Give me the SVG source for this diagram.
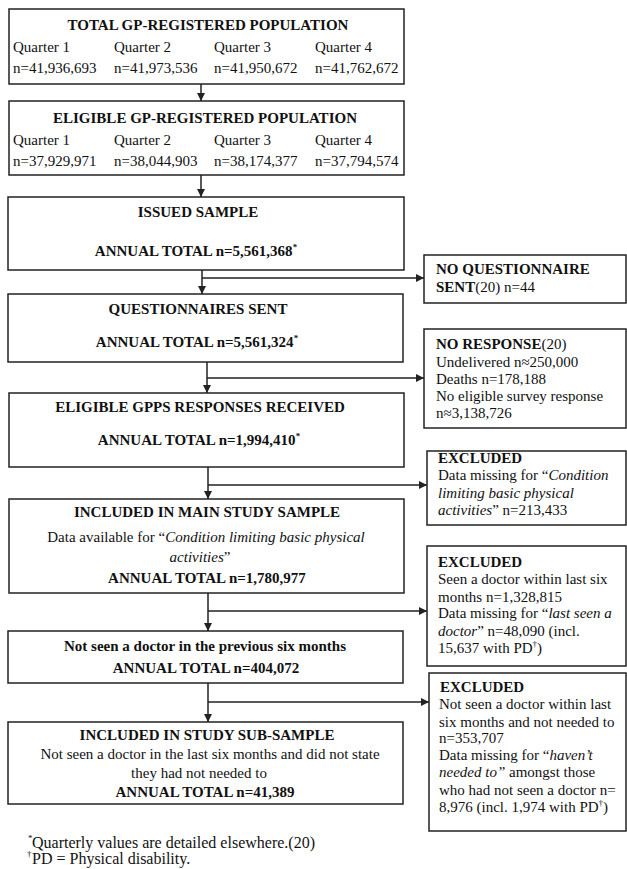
<svg xmlns="http://www.w3.org/2000/svg" width="627" height="869" viewBox="0 0 627 869">
<style>
  .box { fill: #ffffff; stroke: #222222; stroke-width: 1.5; }
  .con { fill: none; stroke: #222222; stroke-width: 1.5; marker-end: url(#ah); }
  text { font-family: "Liberation Serif", "Times New Roman", serif; font-size: 15px; fill: #111111; }
  .b { font-weight: bold; }
  .i { font-style: italic; }
  .c { text-anchor: middle; }
  .sup { font-size: 9px; }
  .fn { font-size: 16px; }
</style>
<defs>
  <marker id="ah" viewBox="0 0 10 10" refX="10" refY="5" markerWidth="9" markerHeight="8" markerUnits="userSpaceOnUse" orient="auto">
    <path d="M0,0 L10,5 L0,10 z" fill="#222222"/>
  </marker>
</defs>
<rect x="0" y="0" width="627" height="869" fill="#ffffff"/>

<g id="connectors">
  <line class="con" x1="201" y1="84" x2="201" y2="101"/>
  <line class="con" x1="201" y1="175" x2="201" y2="197"/>
  <line class="con" x1="202" y1="270" x2="202" y2="294"/>
  <line class="con" x1="202" y1="278" x2="424" y2="278"/>
  <line class="con" x1="207" y1="362" x2="207" y2="393"/>
  <line class="con" x1="207" y1="378" x2="424" y2="378"/>
  <line class="con" x1="208" y1="467" x2="208" y2="499"/>
  <line class="con" x1="208" y1="485" x2="427" y2="485"/>
  <line class="con" x1="208" y1="593" x2="208" y2="631"/>
  <line class="con" x1="208" y1="611" x2="427" y2="611"/>
  <line class="con" x1="208" y1="683" x2="208" y2="722"/>
  <line class="con" x1="208" y1="702" x2="429" y2="702"/>
</g>

<g id="total-population">
  <rect class="box" x="9" y="9" width="395" height="75"/>
  <text class="b c" x="208" y="30">TOTAL GP-REGISTERED POPULATION</text>
  <text x="13" y="52">Quarter 1</text>
  <text x="114" y="52">Quarter 2</text>
  <text x="214" y="52">Quarter 3</text>
  <text x="315" y="52">Quarter 4</text>
  <text x="13" y="73">n=41,936,693</text>
  <text x="114" y="73">n=41,973,536</text>
  <text x="214" y="73">n=41,950,672</text>
  <text x="315" y="73">n=41,762,672</text>
</g>

<g id="eligible-population">
  <rect class="box" x="9" y="101" width="395" height="74"/>
  <text class="b c" x="205" y="123">ELIGIBLE GP-REGISTERED POPULATION</text>
  <text x="13" y="145">Quarter 1</text>
  <text x="114" y="145">Quarter 2</text>
  <text x="214" y="145">Quarter 3</text>
  <text x="315" y="145">Quarter 4</text>
  <text x="13" y="166">n=37,929,971</text>
  <text x="114" y="166">n=38,044,903</text>
  <text x="214" y="166">n=38,174,377</text>
  <text x="315" y="166">n=37,794,574</text>
</g>

<g id="issued-sample">
  <rect class="box" x="8" y="197" width="396" height="73"/>
  <text class="b c" x="198" y="217">ISSUED SAMPLE</text>
  <text class="b c" x="196" y="256">ANNUAL TOTAL n=5,561,368<tspan class="sup" dy="-6">*</tspan></text>
</g>

<g id="no-questionnaire">
  <rect class="box" x="424" y="255" width="202" height="48"/>
  <text class="b" x="436" y="274">NO QUESTIONNAIRE</text>
  <text x="436" y="292"><tspan class="b">SENT</tspan>(20) n=44</text>
</g>

<g id="questionnaires-sent">
  <rect class="box" x="8" y="294" width="395" height="68"/>
  <text class="b c" x="198" y="314">QUESTIONNAIRES SENT</text>
  <text class="b c" x="197" y="347">ANNUAL TOTAL n=5,561,324<tspan class="sup" dy="-6">*</tspan></text>
</g>

<g id="no-response">
  <rect class="box" x="424" y="329" width="202" height="99"/>
  <text x="436" y="349"><tspan class="b">NO RESPONSE</tspan>(20)</text>
  <text x="436" y="367">Undelivered n≈250,000</text>
  <text x="436" y="384">Deaths n=178,188</text>
  <text x="436" y="401">No eligible survey response</text>
  <text x="436" y="418">n≈3,138,726</text>
</g>

<g id="eligible-responses">
  <rect class="box" x="9" y="393" width="395" height="74"/>
  <text class="b c" x="200" y="412">ELIGIBLE GPPS RESPONSES RECEIVED</text>
  <text class="b c" x="199" y="445">ANNUAL TOTAL n=1,994,410<tspan class="sup" dy="-6">*</tspan></text>
</g>

<g id="excluded-condition">
  <rect class="box" x="427" y="451" width="199" height="74"/>
  <text class="b" x="438" y="463">EXCLUDED</text>
  <text x="438" y="480">Data missing for “<tspan class="i">Condition</tspan></text>
  <text class="i" x="438" y="498">limiting basic physical</text>
  <text x="438" y="515"><tspan class="i">activities</tspan>” n=213,433</text>
</g>

<g id="main-study-sample">
  <rect class="box" x="9" y="499" width="395" height="94"/>
  <text class="b c" x="207" y="517">INCLUDED IN MAIN STUDY SAMPLE</text>
  <text class="c" x="206" y="542">Data available for “<tspan class="i">Condition limiting basic physical</tspan></text>
  <text class="c" x="200" y="562"><tspan class="i">activities</tspan>”</text>
  <text class="b c" x="207" y="583">ANNUAL TOTAL n=1,780,977</text>
</g>

<g id="excluded-seen-doctor">
  <rect class="box" x="427" y="546" width="199" height="120"/>
  <text class="b" x="438" y="567">EXCLUDED</text>
  <text x="438" y="584">Seen a doctor within last six</text>
  <text x="438" y="602">months n=1,328,815</text>
  <text x="438" y="618">Data missing for “<tspan class="i">last seen a</tspan></text>
  <text x="438" y="636"><tspan class="i">doctor</tspan>” n=48,090 (incl.</text>
  <text x="438" y="653">15,637 with PD<tspan class="sup" dy="-6">†</tspan><tspan dy="6">)</tspan></text>
</g>

<g id="not-seen-doctor">
  <rect class="box" x="8" y="631" width="395" height="52"/>
  <text class="b c" x="205" y="651">Not seen a doctor in the previous six months</text>
  <text class="b c" x="206" y="673">ANNUAL TOTAL n=404,072</text>
</g>

<g id="excluded-not-needed">
  <rect class="box" x="429" y="673" width="197" height="158"/>
  <text class="b" x="440" y="692">EXCLUDED</text>
  <text x="439" y="709">Not seen a doctor within last</text>
  <text x="439" y="727">six months and not needed to</text>
  <text x="439" y="743">n=353,707</text>
  <text x="439" y="760">Data missing for “<tspan class="i">haven’t</tspan></text>
  <text x="439" y="777"><tspan class="i">needed to”</tspan> amongst those</text>
  <text x="439" y="795">who had not seen a doctor n=</text>
  <text x="439" y="812">8,976 (incl. 1,974 with PD<tspan class="sup" dy="-6">†</tspan><tspan dy="6">)</tspan></text>
</g>

<g id="study-sub-sample">
  <rect class="box" x="8" y="722" width="395" height="82"/>
  <text class="b c" x="207" y="740">INCLUDED IN STUDY SUB-SAMPLE</text>
  <text class="c" x="210" y="759">Not seen a doctor in the last six months and did not state</text>
  <text class="c" x="199" y="778">they had not needed to</text>
  <text class="b c" x="205" y="797">ANNUAL TOTAL n=41,389</text>
</g>

<g id="footnotes">
  <text class="sup" x="28" y="841">*</text>
  <text class="fn" x="32" y="848">Quarterly values are detailed elsewhere.(20)</text>
  <text class="sup" x="27" y="857">†</text>
  <text class="fn" x="32" y="864">PD = Physical disability.</text>
</g>
</svg>
